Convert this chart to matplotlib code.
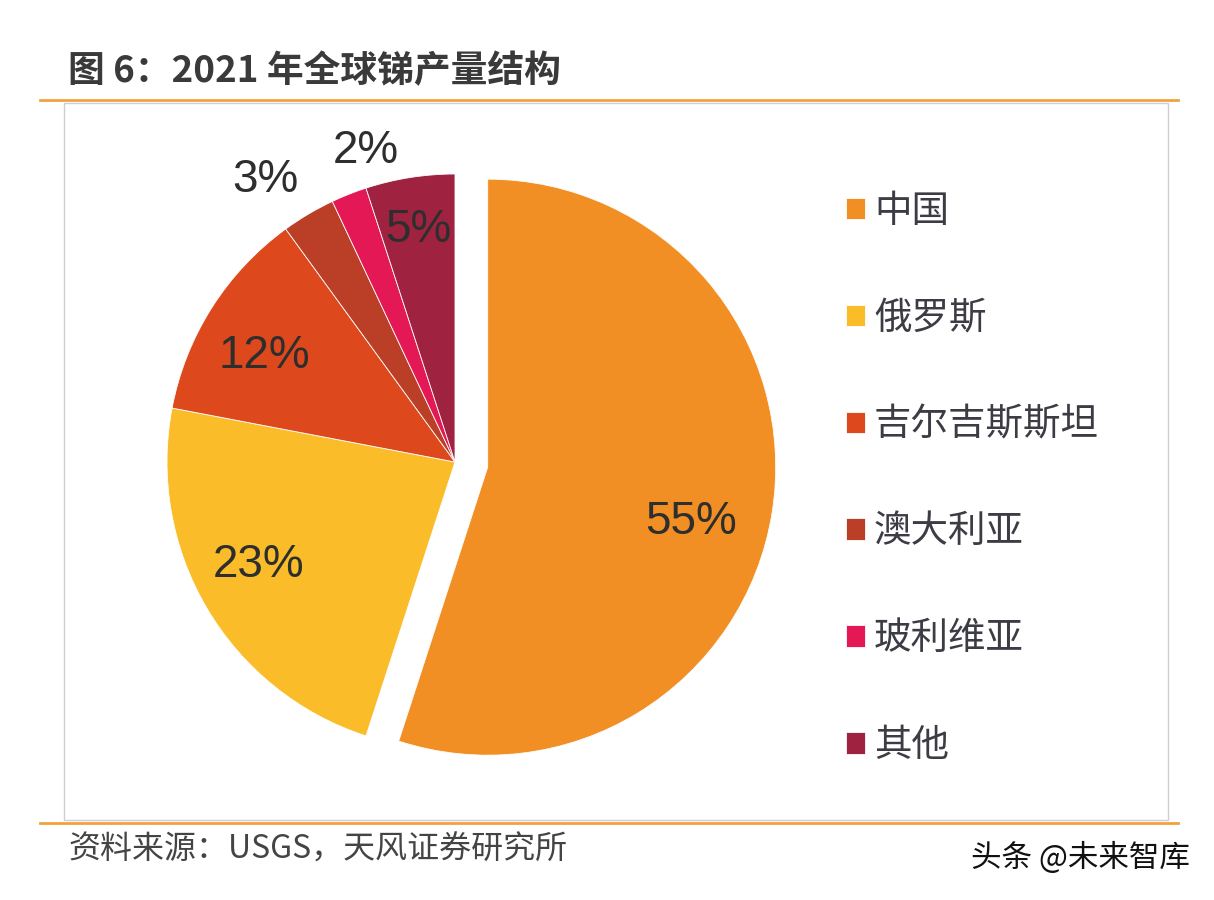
import matplotlib
matplotlib.use("Agg")
import matplotlib.pyplot as plt
import numpy as np
from matplotlib.patches import Rectangle
from matplotlib.lines import Line2D

plt.rcParams['font.family'] = ['Noto Sans CJK SC', 'DejaVu Sans']

# 数据
countries = ["中国", "俄罗斯", "吉尔吉斯斯坦", "澳大利亚", "玻利维亚", "其他"]
shares = [55, 23, 12, 3, 2, 5]
colors = ["#F18A1D", "#FBBA22", "#DC4214", "#B8391F", "#E3104E", "#9C1A3A"]

title = "图 6：2021 年全球锑产量结构"
source = "资料来源：USGS，天风证券研究所"
watermark = "头条 @未来智库"

W, H = 1214, 900
fig = plt.figure(figsize=(W / 100, H / 100), dpi=100)

# --- cadre et lignes oranges ---
fig.patches.append(Rectangle((64 / W, 1 - 820 / H), (1168 - 64) / W, (820 - 103) / H,
                             transform=fig.transFigure, fill=False,
                             edgecolor="#CDCDD6", lw=1.0))
for yy in (100, 823):
    fig.lines.append(Line2D([40 / W, 1178 / W], [1 - yy / H, 1 - yy / H],
                            transform=fig.transFigure, color="#F2A23C", lw=2.0))

fig.text(68 / W, 1 - 72 / H, title, fontsize=26.5, fontweight="bold",
         color="#3A3A3A", va="center", ha="left")
fig.text(68 / W, 1 - 850 / H, source, fontsize=23, color="#444444",
         va="center", ha="left")
fig.text(1190 / W, 1 - 858 / H, watermark, fontsize=22, color="#111111",
         va="center", ha="right")

# --- camembert ---
cx, cy, r = 455, 462, 287
half = 360
ax = fig.add_axes([(cx - half) / W, (H - cy - half) / H, 2 * half / W, 2 * half / H])
L = half / r
ax.set_xlim(-L, L)
ax.set_ylim(-L, L)
ax.set_aspect("equal")
ax.axis("off")

explode = [0.115, 0, 0, 0, 0, 0]
wedges, _ = ax.pie(shares, colors=colors, startangle=90, counterclock=False,
                   explode=explode, radius=1.0,
                   wedgeprops=dict(edgecolor="white", linewidth=0.6, alpha=0.97))

# placement des étiquettes (rayon, décalage angulaire en degrés)
label_r = [0.73, 0.77, 0.757, 1.18, 1.125, 0.817]
label_dt = [-6.0, -2.8, 3.4, 3.4, -5.6, 0.0]
for w, s, lr, dt, ex in zip(wedges, shares, label_r, label_dt, explode):
    mid = (w.theta1 + w.theta2) / 2
    ang = np.deg2rad(mid + dt)
    ox, oy = ex * np.cos(np.deg2rad(mid)), ex * np.sin(np.deg2rad(mid))
    ax.text(ox + lr * np.cos(ang), oy + lr * np.sin(ang), f"{s}%",
            ha="center", va="center", fontsize=33,
            family=["Liberation Sans", "DejaVu Sans"], color="#2E2E2E")

leg = fig.legend(wedges, countries, loc="upper left",
                 bbox_to_anchor=(812 / W, 1 - 158 / H),
                 frameon=False, fontsize=27, labelspacing=1.81,
                 handlelength=0.5, handleheight=0.5, handletextpad=0.25)
for t in leg.get_texts():
    t.set_color("#3C3C44")

fig.savefig("out.png", dpi=100, facecolor="white")
